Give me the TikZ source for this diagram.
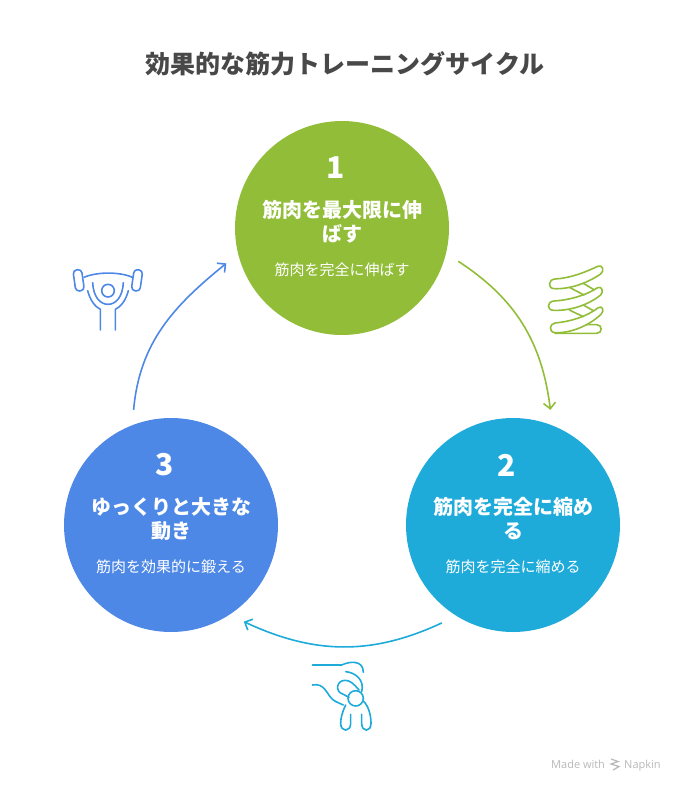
\documentclass[tikz,border=0pt]{standalone}
\usepackage{fontspec}
\setmainfont{Noto Sans CJK JP}
\newfontfamily\footfont{Open Sans}
\usetikzlibrary{arrows.meta}
\usetikzlibrary{calc}

\definecolor{stepgreen}{HTML}{92BD39}
\definecolor{stepcyan}{HTML}{1EABDA}
\definecolor{stepblue}{HTML}{4E88E7}
\definecolor{titlegray}{HTML}{484848}
\definecolor{footgray}{HTML}{B8B8B8}

\tikzset{
  stepcircle/.style={circle, fill=#1, minimum size=214pt, inner sep=0pt, outer sep=14pt},
  cyclearrow/.style={draw=#1, line width=1.6pt, -{Straight Barb[length=6pt,width=12pt]}},
  iconline/.style={draw=#1, line width=1.6pt, line cap=round, line join=round},
  numtext/.style={text=white, font=\bfseries\fontsize{30}{30}\selectfont},
  headtext/.style={text=white, font=\bfseries\fontsize{20}{20}\selectfont},
  desctext/.style={text=white, font=\fontsize{15}{15}\selectfont},
  foottext/.style={text=footgray, font=\footfont\fontsize{11}{11}\selectfont, anchor=base west, inner sep=0pt},
}

\begin{document}
\begin{tikzpicture}[x=1pt, y=-1pt]
  \useasboundingbox (0,0) rectangle (684,792);

  \node[text=titlegray, font=\bfseries\fontsize{25}{25}\selectfont] (title) at (345,64) {効果的な筋力トレーニングサイクル};

  % the three circles
  \node[stepcircle=stepgreen] (step1) at (342,228) {};
  \node[stepcircle=stepcyan] (step2) at (513,525) {};
  \node[stepcircle=stepblue] (step3) at (171,525) {};

  % texts of circle 1
  \node[numtext] (num1) at (336,168) {1};
  \node[headtext] (head1a) at (342,210) {筋肉を最大限に伸};
  \node[headtext] (head1b) at (342,234) {ばす};
  \node[desctext] (desc1) at (342,270) {筋肉を完全に伸ばす};

  % texts of circle 2
  \node[numtext] (num2) at (507,465) {2};
  \node[headtext] (head2a) at (513,507) {筋肉を完全に縮め};
  \node[headtext] (head2b) at (513,531) {る};
  \node[desctext] (desc2) at (513,567) {筋肉を完全に縮める};

  % texts of circle 3
  \node[numtext] (num3) at (165,465) {3};
  \node[headtext] (head3a) at (171,507) {ゆっくりと大きな};
  \node[headtext] (head3b) at (171,531) {動き};
  \node[desctext] (desc3) at (171,567) {筋肉を効果的に鍛える};

  % arrows between the circles
  \draw[cyclearrow=stepgreen] (step1.-16) to[out=-33,in=97] (step2.72);
  \draw[cyclearrow=stepcyan] (step2.-126) to[out=-155,in=-25] (step3.-53);
  \draw[cyclearrow=stepblue] (step3.108) to[out=85,in=-141] (step1.-163);

  % lifting icon
  \begin{scope}[shift={(40,250)}, scale=1/3]
    \draw[iconline=stepblue, rounded corners=3.8pt, rotate around={8:(116,91)}] (103,59) rectangle (129,123);
    \draw[iconline=stepblue, rounded corners=3.8pt, rotate around={-8:(291,91)}] (278,59) rectangle (304,123);
    \draw[iconline=stepblue] (132,82) .. controls (170,65) and (240,65) .. (277,82);
    \draw[iconline=stepblue] (204,122) circle (19);
    \draw[iconline=stepblue] (158,98) .. controls (160,140) and (180,163) .. (204,163) .. controls (228,163) and (248,140) .. (250,98);
    \draw[iconline=stepblue] (143,122) .. controls (150,150) and (165,170) .. (181,178) -- (181,240);
    \draw[iconline=stepblue] (265,122) .. controls (258,150) and (243,170) .. (226,178) -- (226,240);
  \end{scope}

  % spring icon
  \begin{scope}[shift={(530,250)}, scale=1/3]
    \draw[iconline=stepgreen] (203,49) .. controls (170,65) and (120,85) .. (75,87) .. controls (55,88) and (52,115) .. (72,116) .. controls (120,118) and (170,100) .. (212,72) .. controls (225,62) and (217,42) .. (203,49);
    \draw[iconline=stepgreen] (203,113) .. controls (170,135) and (120,150) .. (72,153) .. controls (50,155) and (50,180) .. (70,181) .. controls (120,183) and (175,165) .. (212,135) .. controls (222,125) and (215,107) .. (203,113);
    \draw[iconline=stepgreen] (205,173) .. controls (170,200) and (120,215) .. (75,219) .. controls (58,221) and (55,246) .. (75,248) .. controls (125,250) and (180,225) .. (214,192) .. controls (224,180) and (216,166) .. (205,173);
    \draw[iconline=stepgreen] (75,250) -- (200,250) .. controls (218,250) and (218,224) .. (200,224) -- (170,224);
    \draw[iconline=stepgreen] (118,112) -- (162,135);
    \draw[iconline=stepgreen] (160,100) -- (190,118);
    \draw[iconline=stepgreen] (118,180) -- (160,200);
    \draw[iconline=stepgreen] (160,165) -- (190,182);
  \end{scope}

  % stretching icon
  \begin{scope}[shift={(295,645)}, scale=1/3]
    \draw[iconline=stepcyan] (52,60) -- (140,60) .. controls (165,48) and (205,45) .. (205,82);
    \draw[iconline=stepcyan] (152,80) .. controls (180,82) and (210,105) .. (200,140);
    \draw[iconline=stepcyan] (52,120) .. controls (90,112) and (95,150) .. (115,165) .. controls (125,172) and (135,175) .. (145,180);
    \draw[iconline=stepcyan] (182,160) circle (23);
    \draw[iconline=stepcyan] (192,135) .. controls (175,115) and (165,106) .. (150,106) .. controls (125,106) and (118,140) .. (145,148) -- (162,157);
    \draw[iconline=stepcyan] (152,180) .. controls (142,200) and (137,220) .. (137,235) .. controls (137,262) and (167,262) .. (167,235) -- (167,208);
    \draw[iconline=stepcyan] (200,208) -- (200,235) .. controls (200,262) and (228,262) .. (228,235) .. controls (228,210) and (220,182) .. (205,168);
  \end{scope}

  % footer
  \node[foottext] (made) at (551,768) {Made with};
  \node[foottext] (napkin) at (624,768) {Napkin};
  \draw[footgray, line width=1.2pt] (611,759) -- (618,761.5) -- (611,764) -- (619,766.5) -- (613,770);
\end{tikzpicture}
\end{document}
